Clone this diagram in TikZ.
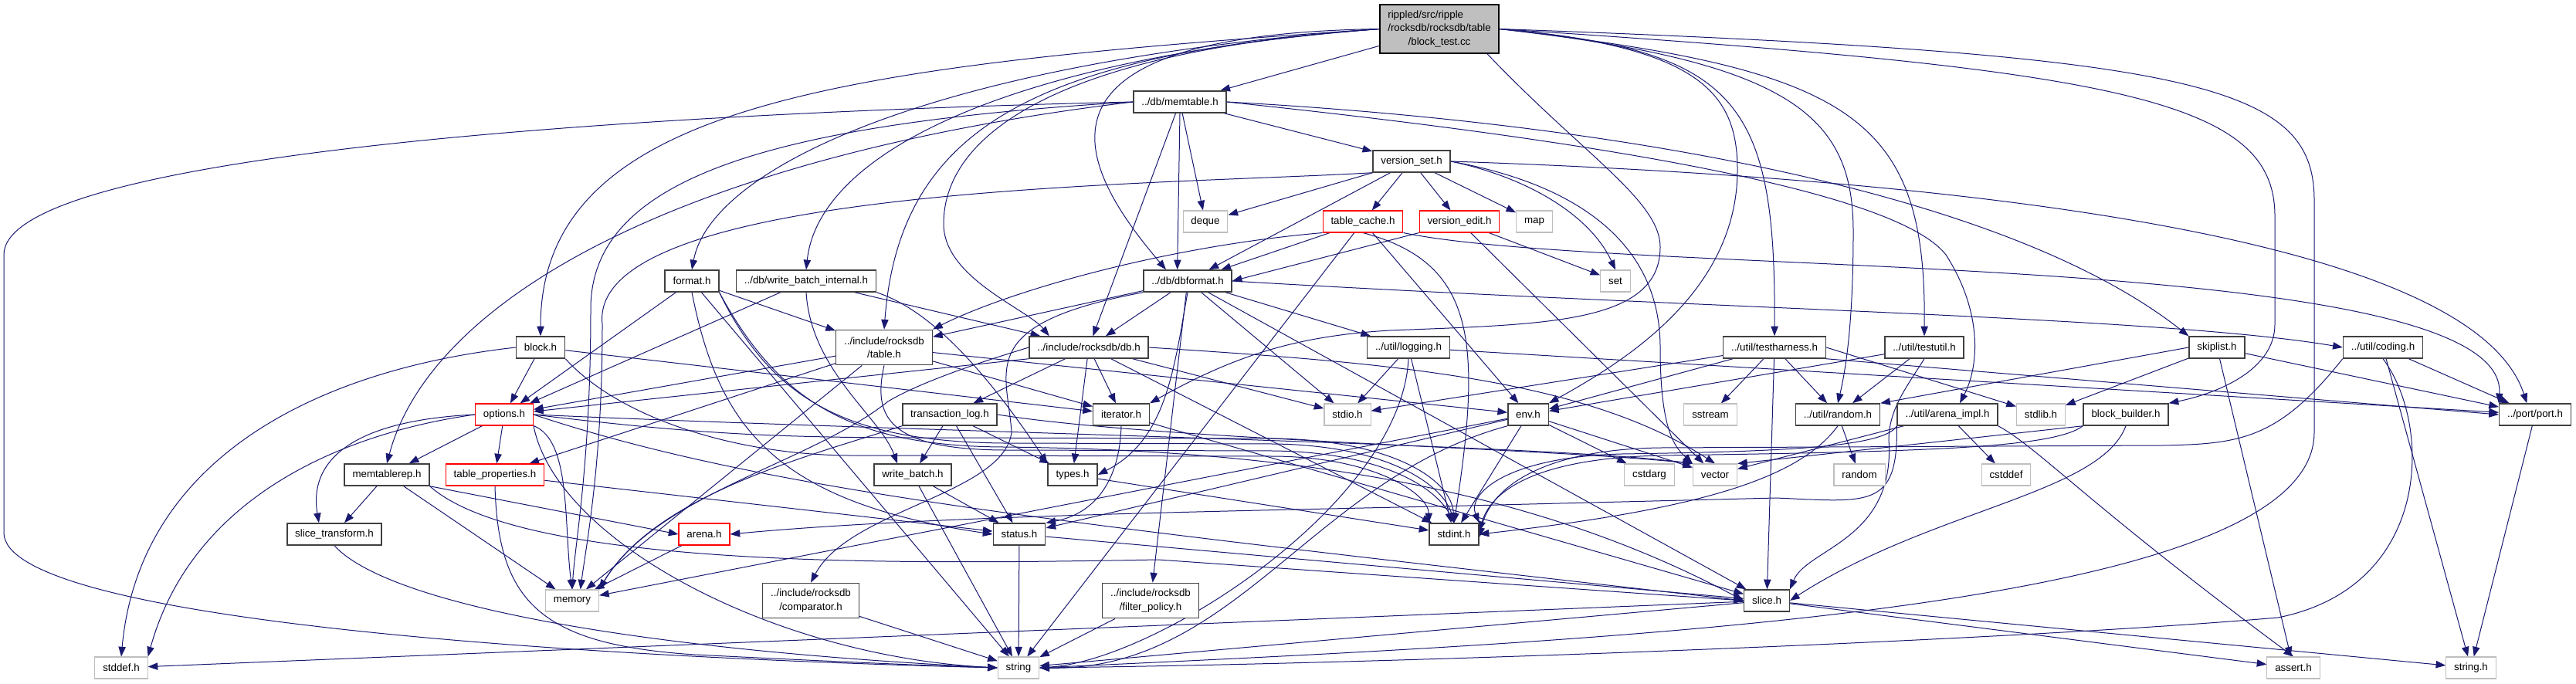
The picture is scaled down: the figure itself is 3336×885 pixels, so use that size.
\documentclass[tikz,border=0pt]{standalone}
\usepackage{fontspec}
\setmainfont{Liberation Sans}
\usetikzlibrary{arrows.meta,backgrounds}
\definecolor{edgeblue}{HTML}{191970}
\definecolor{extgray}{HTML}{BFBFBF}
\definecolor{truncred}{HTML}{FF0000}
\definecolor{docgray}{HTML}{404040}
\begin{document}
\begin{tikzpicture}[x=0.75pt,y=-0.75pt,
  nbase/.style={rectangle, fill=white, font=\fontsize{10}{13}\selectfont,
    inner xsep=7.8pt, inner ysep=0pt, minimum height=21pt, align=center},
  doc/.style={nbase, draw=docgray, line width=1.1pt},
  trunc/.style={nbase, draw=truncred, line width=0.8pt},
  ext/.style={nbase, draw=extgray, line width=0.8pt},
  twoline/.style={minimum height=34pt},
  dep/.style={draw=edgeblue, line width=0.75pt, -{Triangle[length=9.5pt,width=7pt]}},
]
\useasboundingbox (0,0) rectangle (3336,885);
% ---------------- nodes ----------------
\node[doc, draw=black, fill=extgray, minimum height=47pt] (root) at (1864,37.5)
  {\begin{tabular}{@{}l@{}}rippled/src/ripple\\/rocksdb/rocksdb/table\\\multicolumn{1}{@{}c@{}}{/block\_test.cc}\end{tabular}};
\node[doc] (memtable) at (1528,132) {../db/memtable.h};
\node[ext] (deque) at (1561,287) {deque};
\node[doc] (versionset) at (1828,209) {version\_set.h};
\node[trunc] (tablecache) at (1765,287) {table\_cache.h};
\node[trunc] (versionedit) at (1890,287) {version\_edit.h};
\node[ext] (map) at (1987,287) {map};
\node[ext] (set) at (2092,364) {set};
\node[doc] (format) at (896,364) {format.h};
\node[doc] (wbi) at (1044,364) {../db/write\_batch\_internal.h};
\node[doc] (dbformat) at (1538,364) {../db/dbformat.h};
\node[doc, twoline] (table) at (1145,450) {../include/rocksdb\\/table.h};
\node[doc] (db) at (1410,450) {../include/rocksdb/db.h};
\node[doc] (translog) at (1230,537) {transaction\_log.h};
\node[doc] (iterator) at (1452,537) {iterator.h};
\node[doc] (block) at (700,450) {block.h};
\node[trunc] (options) at (653,537) {options.h};
\node[doc] (logging) at (1824,450) {../util/logging.h};
\node[doc] (testharness) at (2298,450) {../util/testharness.h};
\node[doc] (testutil) at (2492,450) {../util/testutil.h};
\node[ext] (stdio) at (1745,537) {stdio.h};
\node[doc] (env) at (1979,537) {env.h};
\node[ext] (sstream) at (2215,537) {sstream};
\node[doc] (randomh) at (2380,537) {../util/random.h};
\node[doc] (arenaimpl) at (2522,537) {../util/arena\_impl.h};
\node[doc] (skiplist) at (2871,450) {skiplist.h};
\node[doc] (coding) at (3086,450) {../util/coding.h};
\node[ext] (stdlib) at (2643,537) {stdlib.h};
\node[doc] (blockbuilder) at (2753,537) {block\_builder.h};
\node[doc] (port) at (3283,537) {../port/port.h};
\node[doc] (memtablerep) at (501,615) {memtablerep.h};
\node[trunc] (tableprops) at (641,615) {table\_properties.h};
\node[doc] (slicetransform) at (433,692) {slice\_transform.h};
\node[ext] (memory) at (741,778) {memory};
\node[ext] (stddef) at (157,865) {stddef.h};
\node[doc] (writebatch) at (1182,615) {write\_batch.h};
\node[doc] (types) at (1389,615) {types.h};
\node[trunc] (arena) at (912,692) {arena.h};
\node[doc] (status) at (1320,692) {status.h};
\node[doc, twoline] (comparator) at (1050,778) {../include/rocksdb\\/comparator.h};
\node[doc, twoline] (filterpolicy) at (1490,778) {../include/rocksdb\\/filter\_policy.h};
\node[ext] (string) at (1319,865) {string};
\node[ext] (cstdarg) at (2136,615) {cstdarg};
\node[ext] (vector) at (2221,615) {vector};
\node[ext] (random) at (2408,615) {random};
\node[doc] (stdint) at (1883,692) {stdint.h};
\node[doc] (slice) at (2288,778) {slice.h};
\node[ext] (cstddef) at (2598,615) {cstddef};
\node[ext] (assert) at (2970,865) {assert.h};
\node[ext] (stringh) at (3200,865) {string.h};
% ---------------- edges ----------------
\begin{scope}[on background layer]
% root
\draw[dep] (root) -- (memtable);
\draw[dep] (root.west) .. controls (1100,85) and (700,130) .. (block.north);
\draw[dep] (root.west) .. controls (1200,80) and (920,220) .. (format.north);
\draw[dep] (root.west) .. controls (1300,75) and (1060,200) .. (wbi.north);
\draw[dep] (root.west) .. controls (1350,70) and (1165,160) .. (table.north);
\draw[dep] (root.west) .. controls (1380,65) and (1222,170) .. (1222,290) .. controls (1222,360) and (1330,400) .. ([xshift=20pt]db.north west);
\draw[dep] (root.west) .. controls (1300,45) and (1400,220) .. ([xshift=-21pt]dbformat.north);
\draw[dep] ([xshift=-12pt]root.south east) .. controls (2050,200) and (2150,260) .. (2150,320) .. controls (2150,420) and (2000,420) .. (1800,428) .. controls (1680,435) and (1600,460) .. (iterator.north east);
\draw[dep] (root.east) .. controls (2200,60) and (2250,120) .. (2250,220) .. controls (2250,380) and (2100,470) .. (env.north east);
\draw[dep] (root.east) .. controls (2250,65) and (2300,130) .. (testharness.north);
\draw[dep] (root.east) .. controls (2320,80) and (2400,150) .. (2400,300) .. controls (2400,420) and (2390,480) .. (randomh.north);
\draw[dep] (root.east) .. controls (2400,90) and (2495,150) .. (testutil.north);
\draw[dep] (root.east) .. controls (2750,90) and (2946,130) .. (2946,280) -- (2946,420) .. controls (2946,480) and (2870,510) .. (blockbuilder.north east);
\draw[dep] (root.east) .. controls (2850,70) and (2997,110) .. (2997,260) -- (2997,560) .. controls (2997,790) and (2100,830) .. (string.east);
% memtable
\draw[dep] (memtable.west) .. controls (700,150) and (5,210) .. (5,330) -- (5,690) .. controls (5,800) and (700,850) .. (string.west);
\draw[dep] (memtable.west) .. controls (1000,160) and (765,230) .. (765,400) .. controls (765,600) and (745,700) .. (memory.north);
\draw[dep] (memtable) -- (deque);
\draw[dep] (memtable.south) -- ([xshift=-10pt]dbformat.north);
\draw[dep] (memtable.east) .. controls (2100,160) and (2600,250) .. (skiplist.north west);
\draw[dep] (memtable) -- (versionset);
\draw[dep] (memtable) -- (db);
\draw[dep] (memtable.west) .. controls (900,200) and (560,380) .. (memtablerep.north);
\draw[dep] (memtable.east) .. controls (2000,175) and (2450,240) .. (2520,330) .. controls (2565,400) and (2565,470) .. ([xshift=12pt]arenaimpl.north);
% version_set
\draw[dep] (versionset) -- (deque);
\draw[dep] (versionset.south west) .. controls (1500,240) and (760,240) .. (780,420) .. controls (780,600) and (760,700) .. ([xshift=8pt]memory.north);
\draw[dep] (versionset) -- (dbformat);
\draw[dep] (versionset) -- (tablecache);
\draw[dep] (versionset) -- (versionedit);
\draw[dep] (versionset) -- (map);
\draw[dep] (versionset.east) .. controls (1980,230) and (2060,280) .. (set.north);
\draw[dep] (versionset.east) .. controls (2050,240) and (2150,320) .. (2150,450) .. controls (2150,560) and (2170,580) .. (vector.north west);
\draw[dep] (versionset.east) .. controls (2500,230) and (3200,300) .. ([xshift=-8pt]port.north);
% table_cache
\draw[dep] (tablecache) -- (dbformat);
\draw[dep] (tablecache.south west) .. controls (1500,320) and (1300,380) .. (table.north east);
\draw[dep] (tablecache) -- (env);
\draw[dep] (tablecache) -- (string);
\draw[dep] (tablecache.south) .. controls (1910,340) and (1920,440) .. (stdint.north);
\draw[dep] (tablecache.south east) .. controls (2100,360) and (3250,320) .. (port.north west);
% version_edit
\draw[dep] (versionedit) -- (set);
\draw[dep] (versionedit) -- (vector);
\draw[dep] (versionedit.south west) -- (dbformat.east);
% format
\draw[dep] (format) -- (string);
\draw[dep] (format.south east) .. controls (1000,520) and (1100,572) .. (1300,574) -- (1650,575) .. controls (1800,577) and (1870,630) .. (stdint.north);
\draw[dep] (format.south east) .. controls (1010,525) and (1110,578) .. (1300,579) .. controls (1700,583) and (2000,640) .. (slice.west);
\draw[dep] (format.south) .. controls (930,550) and (1000,650) .. (status.west);
\draw[dep] (format) -- (options);
\draw[dep] (format) -- (table);
% write_batch_internal
\draw[dep] (wbi) -- (options);
\draw[dep] (wbi.south) .. controls (1050,480) and (1140,540) .. ([xshift=-15pt]writebatch.north);
\draw[dep] (wbi) -- (db);
\draw[dep] (wbi.south east) .. controls (1200,400) and (1270,470) .. (types.north west);
% dbformat
\draw[dep] (dbformat) -- (stdio);
\draw[dep] (dbformat.south west) .. controls (1260,420) and (1305,480) .. (1310,560) .. controls (1300,640) and (1100,660) .. (comparator.north);
\draw[dep] (dbformat) -- (db);
\draw[dep] (dbformat) -- (filterpolicy);
\draw[dep] (dbformat) -- (slice);
\draw[dep] (dbformat) -- (table);
\draw[dep] (dbformat.south) .. controls (1520,480) and (1510,570) .. (types.east);
\draw[dep] (dbformat.east) .. controls (2200,400) and (2800,410) .. (coding.west);
\draw[dep] (dbformat) -- (logging);
% table.h
\draw[dep] (table) -- (memory);
\draw[dep] (table.south) .. controls (1130,540) and (1150,582) .. (1300,583) -- (1650,584) .. controls (1790,586) and (1860,632) .. (stdint.north);
\draw[dep] (table) -- (env);
\draw[dep] (table) -- (iterator);
\draw[dep] (table) -- (tableprops);
\draw[dep] (table) -- (options);
% db.h
\draw[dep] (db) -- (stdint);
\draw[dep] (db) -- (stdio);
\draw[dep] (db.west) .. controls (1300,460) and (1200,490) .. (1150,520) .. controls (1050,600) and (850,640) .. (memory.north east);
\draw[dep] (db.east) .. controls (1800,470) and (2050,490) .. (vector.north);
\draw[dep] (db) -- (iterator);
\draw[dep] (db.south west) -- (options);
\draw[dep] (db) -- (types);
\draw[dep] (db) -- (translog);
% transaction_log
\draw[dep] (translog) -- (status);
\draw[dep] (translog) -- (types);
\draw[dep] (translog) -- (writebatch);
\draw[dep] (translog.south west) .. controls (1050,590) and (850,640) .. (memory.north east);
\draw[dep] (translog.east) .. controls (1500,570) and (2000,580) .. (vector.north west);
% iterator
\draw[dep] (iterator) -- (slice);
\draw[dep] (iterator.south) .. controls (1450,620) and (1420,665) .. (status.north east);
% block
\draw[dep] (block.west) .. controls (400,480) and (180,600) .. (stddef.north);
\draw[dep] (block.south east) .. controls (800,540) and (950,589) .. (1100,590) -- (1650,591) .. controls (1780,592) and (1850,640) .. (stdint.north west);
\draw[dep] (block) -- (iterator);
\draw[dep] (block) -- (options);
% options
\draw[dep] (options.west) .. controls (450,560) and (250,640) .. (stddef.north east);
\draw[dep] (options.south east) .. controls (720,700) and (1000,850) .. (string.west);
\draw[dep] (options.south east) .. controls (740,570) and (730,680) .. (memory.north);
\draw[dep] (options.east) .. controls (1200,560) and (2000,575) .. (vector.north west);
\draw[dep] (options.east) .. controls (900,562) and (1000,567) .. (1200,567) -- (1650,568) .. controls (1800,570) and (1880,620) .. (stdint.north);
\draw[dep] (options) -- (memtablerep);
\draw[dep] (options.east) .. controls (1000,640) and (1400,680) .. (slice.west);
\draw[dep] (options.west) .. controls (450,545) and (400,600) .. ([xshift=-15pt]slicetransform.north);
\draw[dep] (options) -- (tableprops);
% logging
\draw[dep] (logging) -- (stdio);
\draw[dep] (logging) -- (stdint);
\draw[dep] (logging.south) .. controls (1815,650) and (1500,855) .. (string.east);
\draw[dep] (logging) -- (port);
% testharness
\draw[dep] (testharness) -- (stdio);
\draw[dep] (testharness.east) -- ([yshift=-3pt]stdlib.north west);
\draw[dep] (testharness) -- (sstream);
\draw[dep] (testharness.south east) -- (port.west);
\draw[dep] (testharness) -- (env);
\draw[dep] (testharness) -- (slice);
\draw[dep] (testharness) -- (randomh);
% testutil
\draw[dep] (testutil) -- (env);
\draw[dep] (testutil.south) .. controls (2470,500) and (2446,530) .. (2446,570) .. controls (2455,700) and (2340,710) .. (slice.north east);
\draw[dep] (testutil) -- (randomh);
% env
\draw[dep] (env) -- (cstdarg);
\draw[dep] (env.south west) .. controls (1700,620) and (1600,870) .. (string.east);
\draw[dep] (env) -- (memory);
\draw[dep] (env) -- (vector);
\draw[dep] (env) -- (stdint);
\draw[dep] (env) -- (status);
% util/random.h
\draw[dep] (randomh) -- (random);
\draw[dep] (randomh.south) .. controls (2330,620) and (2200,660) .. (stdint.east);
% arena_impl
\draw[dep] (arenaimpl) -- (cstddef);
\draw[dep] (arenaimpl) -- (vector);
\draw[dep] (arenaimpl.south east) .. controls (2640,580) and (2700,650) .. (assert.north);
\draw[dep] (arenaimpl.south west) .. controls (2440,580) and (2300,585) .. (2100,588) .. controls (1950,592) and (1900,640) .. (stdint.north east);
\draw[dep] (arenaimpl.south west) .. controls (2458,660) and (2420,650) .. (2300,645) -- (1900,655) .. controls (1600,662) and (1200,668) .. (arena.east);
% skiplist
\draw[dep] (skiplist) -- (assert);
\draw[dep] (skiplist) -- (stdlib);
\draw[dep] (skiplist) -- (port);
\draw[dep] (skiplist.west) -- (randomh.north east);
% coding
\draw[dep] (coding.south west) .. controls (2950,570) and (2900,575) .. (2800,577) -- (2150,580) .. controls (2000,582) and (1930,630) .. ([yshift=-3pt]stdint.east);
\draw[dep] (coding) -- (stringh);
\draw[dep] (coding.south) .. controls (3150,550) and (3150,760) .. (2950,800) .. controls (2600,830) and (1800,860) .. (string.east);
\draw[dep] (coding) -- (port);
% block_builder
\draw[dep] (blockbuilder.south west) -- (vector.north east);
\draw[dep] (blockbuilder.south west) .. controls (2660,580) and (2500,585) .. (2150,590) .. controls (1980,594) and (1930,640) .. ([yshift=3pt]stdint.east);
\draw[dep] (blockbuilder.south) .. controls (2720,640) and (2500,660) .. (slice.east);
% port
\draw[dep] (port) -- (stringh);
% memtablerep
\draw[dep] (memtablerep) -- (memory);
\draw[dep] (memtablerep.south east) -- (arena.west);
\draw[dep] (memtablerep.south east) .. controls (680,740) and (1200,730) .. (1500,725) -- (slice.west);
\draw[dep] (memtablerep) -- (slicetransform);
% table_properties
\draw[dep] (tableprops.south) .. controls (645,780) and (700,835) .. (900,848) .. controls (1100,858) and (1200,862) .. (string.west);
\draw[dep] (tableprops) -- (status);
% slice_transform
\draw[dep] (slicetransform.south) .. controls (500,780) and (800,840) .. (string.west);
% arena
\draw[dep] (arena) -- (memory);
% status
\draw[dep] (status) -- (string);
\draw[dep] (status) -- (slice);
% write_batch
\draw[dep] (writebatch) -- (string);
\draw[dep] (writebatch) -- (status);
% types
\draw[dep] (types) -- (stdint);
% comparator, filter_policy
\draw[dep] (comparator) -- (string);
\draw[dep] (filterpolicy) -- (string);
% slice
\draw[dep] (slice) -- (assert);
\draw[dep] (slice) -- (stddef);
\draw[dep] (slice) -- (stringh);
\draw[dep] (slice) -- (string);
\end{scope}
\end{tikzpicture}
\end{document}
